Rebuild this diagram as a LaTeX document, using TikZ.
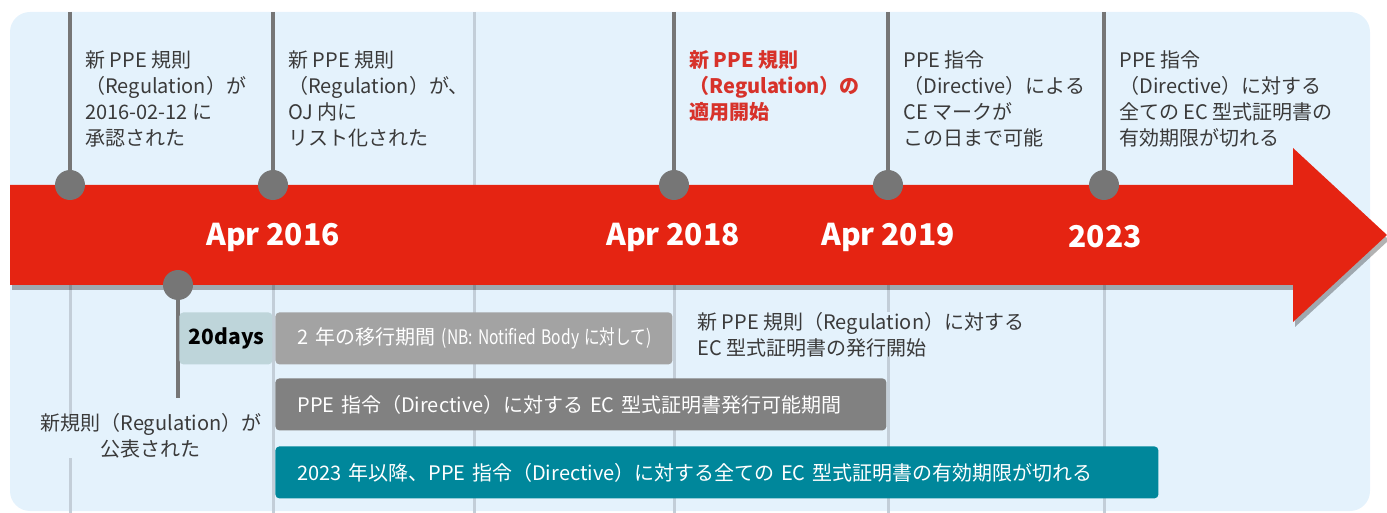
\documentclass[tikz,border=0pt]{standalone}
\usepackage{fontspec}
\setmainfont{Noto Sans CJK JP}
\usepackage{graphicx}
\usetikzlibrary{shadows}

\definecolor{bgblue}{HTML}{E4F2FC}
\definecolor{arrowred}{HTML}{E52412}
\definecolor{dotgray}{HTML}{767676}
\definecolor{gridgray}{HTML}{C3CED8}
\definecolor{textgray}{HTML}{3A3A3A}
\definecolor{hired}{HTML}{D7322A}
\definecolor{barlight}{HTML}{A3A3A3}
\definecolor{bardark}{HTML}{818181}
\definecolor{barteal}{HTML}{00879B}
\definecolor{daysbox}{HTML}{BED5DA}

\begin{document}
\begin{tikzpicture}[x=0.5pt,y=-0.5pt,
  txt/.style={align=left,anchor=north west,inner sep=0pt,text=textgray,font=\fontsize{10}{13}\selectfont},
  datelbl/.style={text=white,font=\fontsize{15}{18}\selectfont\bfseries},
  dot/.style={circle,fill=dotgray,minimum size=15pt,inner sep=0pt},
  mainline/.style={line width=2pt,dotgray},
  gridline/.style={line width=1.5pt,gridgray},
  bar/.style={rounded corners=2pt,anchor=north west,inner xsep=11pt,inner ysep=0pt,minimum height=26pt,text=white,align=left,font=\fontsize{10}{13}\selectfont}]
 	\useasboundingbox (0,0) rectangle (1387,513);
 	\fill[bgblue,rounded corners=10pt] (10,12) rectangle (1370,511);
 	\coordinate (g1a) at (70,12);   \coordinate (g1b) at (70,513);
 	\coordinate (g2a) at (273,12);  \coordinate (g2b) at (273,513);
 	\coordinate (g3a) at (474,12);  \coordinate (g3b) at (474,513);
 	\coordinate (g4a) at (674,12);  \coordinate (g4b) at (674,513);
 	\coordinate (g5a) at (888,12);  \coordinate (g5b) at (888,513);
 	\coordinate (g6a) at (1104,12); \coordinate (g6b) at (1104,513);
 	\draw[gridline] (g1a) -- (g1b);
 	\draw[gridline] (g2a) -- (g2b);
 	\draw[gridline] (g3a) -- (g3b);
 	\draw[gridline] (g4a) -- (g4b);
 	\draw[gridline] (g5a) -- (g5b);
 	\draw[gridline] (g6a) -- (g6b);
 	\fill[arrowred,drop shadow={shadow xshift=1pt,shadow yshift=-2.5pt,opacity=0.3,fill=black}]
 	  (10,185) -- (1293,185) -- (1293,148) -- (1387,235) -- (1293,322) -- (1293,285) -- (10,285) -- cycle;
 	\node[dot] (d1) at (70,185) {};
 	\node[dot] (d2) at (273,185) {};
 	\node[dot] (d3) at (674,185) {};
 	\node[dot] (d4) at (888,185) {};
 	\node[dot] (d5) at (1104,185) {};
 	\node[dot] (d6) at (178,285) {};
 	\draw[mainline] (g1a) -- (d1);
 	\draw[mainline] (g2a) -- (d2);
 	\draw[mainline] (g4a) -- (d3);
 	\draw[mainline] (g5a) -- (d4);
 	\draw[mainline] (g6a) -- (d5);
 	\coordinate (pubend) at (178,398);
 	\draw[mainline] (d6) -- (pubend);
 	\node[datelbl] (apr16) at (273,237) {Apr 2016};
 	\node[datelbl] (apr18) at (673,237) {Apr 2018};
 	\node[datelbl] (apr19) at (888,237) {Apr 2019};
 	\node[datelbl] (y23) at (1105,237) {2023};
 	\node[txt] (approved) at (85,50) {新 PPE 規則\\（Regulation）が\\2016-02-12 に\\承認された};
 	\node[txt] (listed) at (288,50) {新 PPE 規則\\（Regulation）が、\\OJ 内に\\リスト化された};
 	\node[txt,text=hired,font=\fontsize{10}{13}\selectfont\bfseries] (applied) at (689,50) {新 PPE 規則\\（Regulation）の\\適用開始};
 	\node[txt] (cemark) at (903,50) {PPE 指令\\（Directive）による\\CE マークが\\この日まで可能};
 	\node[txt] (expire) at (1119,50) {PPE 指令\\（Directive）に対する\\全ての EC 型式証明書の\\有効期限が切れる};
 	\node[txt,anchor=center,align=center,fill=bgblue] (published) at (151,436) {新規則（Regulation）が\\公表された};
 	\node[txt,fill=bgblue] (issuing) at (697,312) {新 PPE 規則（Regulation）に対する\\EC 型式証明書の発行開始};
 	\node[bar,fill=daysbox,text=black,align=right,inner xsep=4pt,text width=38.5pt,font=\fontsize{10.5}{13}\selectfont\bfseries] (days) at (179,312) {20days};
 	\node[bar,fill=barlight,text width=176.5pt] (trans) at (275,312) {\mbox{2 年の移行期間 {\fontsize{10}{12}\selectfont\scalebox{0.78}[1]{(NB: Notified Body に対して)}}}};
 	\node[bar,fill=bardark,text width=283.5pt] (period) at (275,378) {PPE 指令（Directive）に対する EC 型式証明書発行可能期間};
 	\node[bar,fill=barteal,text width=419.5pt] (after) at (275,446) {2023 年以降、PPE 指令（Directive）に対する全ての EC 型式証明書の有効期限が切れる};
\end{tikzpicture}
\end{document}
